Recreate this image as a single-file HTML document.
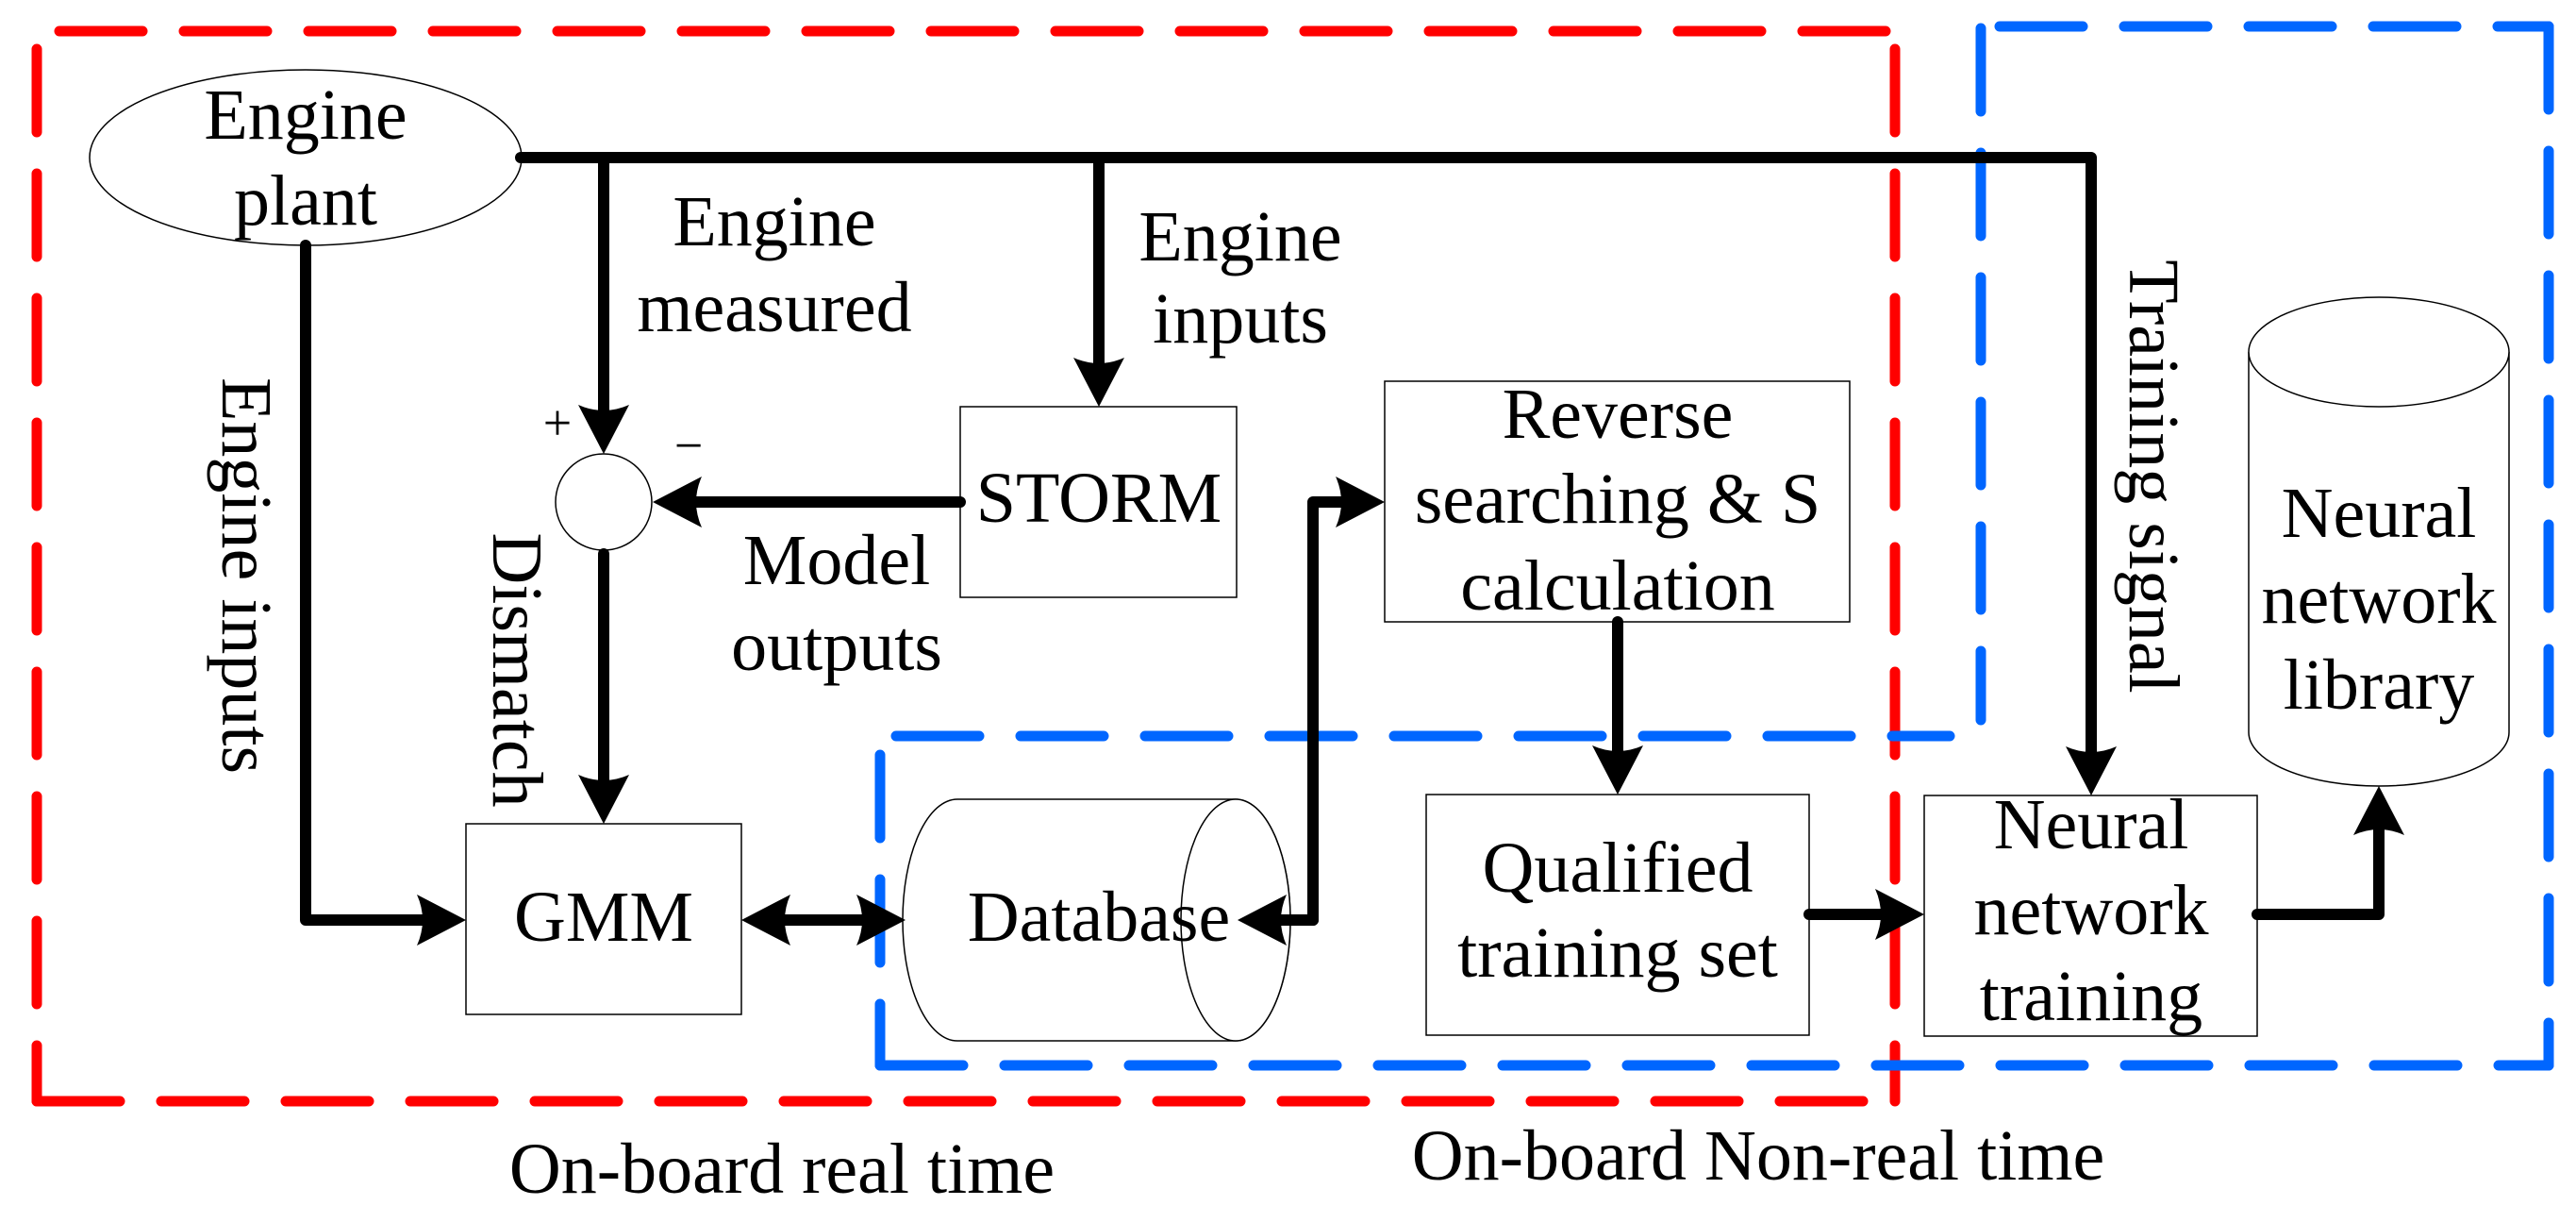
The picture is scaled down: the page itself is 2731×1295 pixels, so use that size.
<!DOCTYPE html>
<html><head><meta charset="utf-8"><style>
html,body{margin:0;padding:0;background:#fff;}
svg{display:block;}
svg text{font-family:"Liberation Serif","Times New Roman","DejaVu Serif",serif;font-size:76px;fill:#000;}
</style></head><body>
<svg width="2731" height="1295" viewBox="0 0 2731 1295" xmlns="http://www.w3.org/2000/svg">
<defs>
<marker id="ah" markerUnits="userSpaceOnUse" markerWidth="60" markerHeight="60" refX="22" refY="27" orient="auto">
<path d="M52,27 L0,0 Q12,27 0,54 Z" fill="#000"/>
</marker>
</defs>
<g stroke="#ff0000" stroke-width="11" stroke-linecap="round" fill="none" stroke-dasharray="88 44">
<line x1="63" y1="33" x2="2009" y2="33"/>
<line x1="39" y1="52" x2="39" y2="1167"/>
<line x1="39" y1="1167" x2="2009" y2="1167"/>
<line x1="2009" y1="52" x2="2009" y2="1167"/>
</g>
<g stroke="#0066ff" stroke-width="11" stroke-linecap="round" fill="none" stroke-dasharray="88 44">
<line x1="950" y1="780" x2="2067" y2="780"/>
<line x1="933" y1="800" x2="933" y2="1129"/>
<line x1="933" y1="1129" x2="2702" y2="1129"/>
<line x1="2100" y1="30" x2="2100" y2="763"/>
<line x1="2120" y1="28" x2="2702" y2="28"/>
<line x1="2702" y1="28" x2="2702" y2="1129"/>
</g>
<g fill="#fff" stroke="#000" stroke-width="1.5">
<ellipse cx="324" cy="167" rx="229" ry="93"/>
<circle cx="640" cy="532" r="51"/>
<rect x="1018" y="431" width="293" height="202"/>
<rect x="494" y="873" width="292" height="202"/>
<rect x="1468" y="404" width="493" height="255"/>
<rect x="1512" y="842" width="406" height="255"/>
<rect x="2040" y="843" width="353" height="255"/>
<path d="M1015,847 L1310,847 A58,128 0 0 1 1310,1103 L1015,1103 A58,128 0 0 1 1015,847 Z"/>
<ellipse cx="1310" cy="975" rx="58" ry="128"/>
<path d="M2384,373 L2384,776 A138,57 0 0 0 2660,776 L2660,373"/>
<ellipse cx="2522" cy="373" rx="138" ry="58"/>
</g>
<g stroke="#000" stroke-width="12" fill="none" stroke-linecap="round" stroke-linejoin="round">
<polyline points="552,167 2217,167 2217,813" marker-end="url(#ah)"/>
<line x1="640" y1="167" x2="640" y2="451" marker-end="url(#ah)"/>
<line x1="1165" y1="167" x2="1165" y2="401" marker-end="url(#ah)"/>
<line x1="1018" y1="532" x2="722" y2="532" marker-end="url(#ah)"/>
<line x1="640" y1="587" x2="640" y2="843" marker-end="url(#ah)"/>
<polyline points="324,260 324,975 464,975" marker-end="url(#ah)"/>
<line x1="873" y1="975" x2="816" y2="975" marker-end="url(#ah)"/>
<line x1="873" y1="975" x2="930" y2="975" marker-end="url(#ah)"/>
<line x1="1392" y1="975" x2="1342" y2="975" marker-end="url(#ah)"/>
<polyline points="1392,975 1392,532 1438,532" marker-end="url(#ah)"/>
<line x1="1715" y1="659" x2="1715" y2="812" marker-end="url(#ah)"/>
<line x1="1918" y1="969" x2="2010" y2="969" marker-end="url(#ah)"/>
<polyline points="2393,969 2522,969 2522,863" marker-end="url(#ah)"/>
</g>
<g text-anchor="middle" style="font-family:'Liberation Serif','Times New Roman',serif">
<text x="324" y="147">Engine</text>
<text x="324" y="238">plant</text>
<text x="821" y="260">Engine</text>
<text x="821" y="351">measured</text>
<text x="1315" y="276">Engine</text>
<text x="1315" y="363">inputs</text>
<text x="591" y="466" style="font-size:54px">+</text>
<text x="730" y="490" style="font-size:54px">−</text>
<text x="1165" y="553">STORM</text>
<text x="887" y="619">Model</text>
<text x="887" y="710">outputs</text>
<text x="640" y="997">GMM</text>
<text x="1165" y="997">Database</text>
<text x="829" y="1264">On-board real time</text>
<text x="1715" y="464">Reverse</text>
<text x="1715" y="554">searching &amp; S</text>
<text x="1715" y="646">calculation</text>
<text x="1715" y="945">Qualified</text>
<text x="1715" y="1035">training set</text>
<text x="2217" y="899">Neural</text>
<text x="2217" y="990">network</text>
<text x="2217" y="1081">training</text>
<text x="2522" y="569">Neural</text>
<text x="2522" y="660">network</text>
<text x="2522" y="751">library</text>
<text x="1864" y="1250">On-board Non-real time</text>
<text transform="translate(236,610) rotate(90)">Engine inputs</text>
<text transform="translate(523,710) rotate(90)">Dismatch</text>
<text transform="translate(2258,505) rotate(90)">Training signal</text>
</g>
</svg>
</body></html>
